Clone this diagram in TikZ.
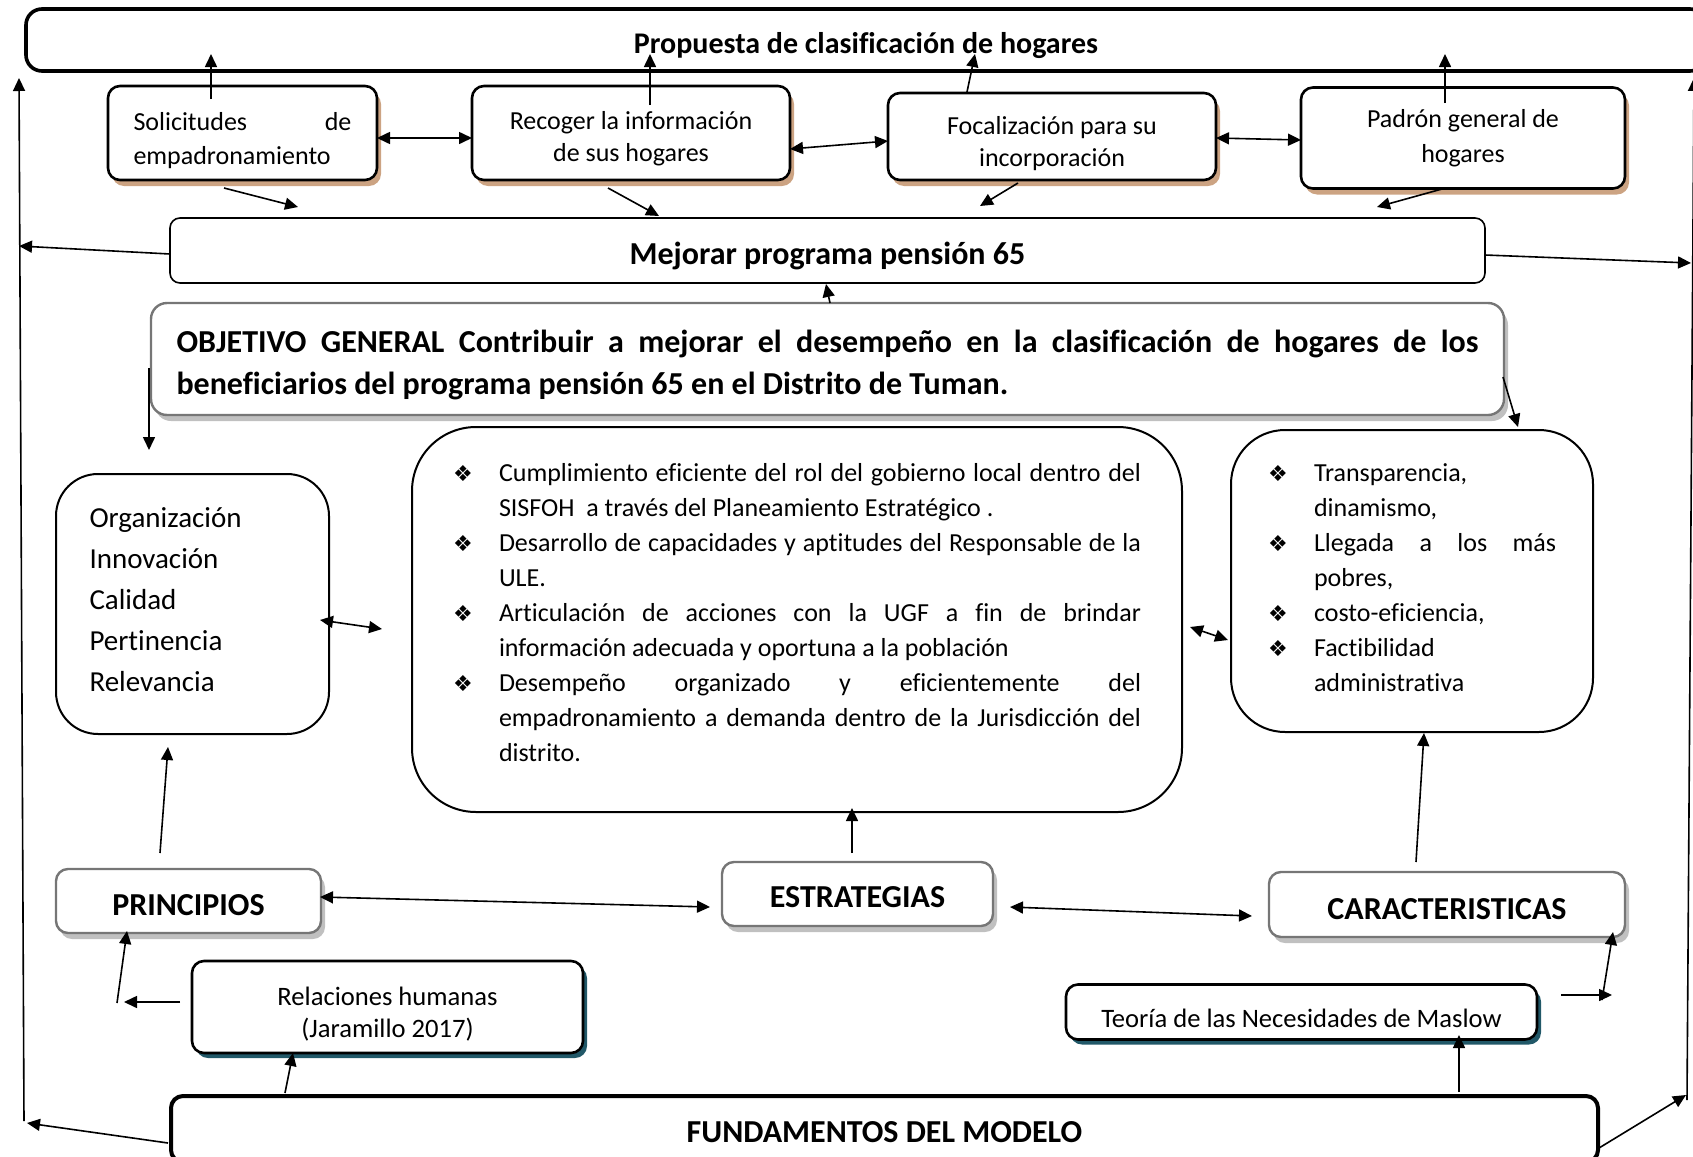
\documentclass[tikz,border=0pt]{standalone}
\usepackage{fontspec}
\setmainfont{Carlito}[Ligatures={TeX,NoCommon}]
\newfontfamily\simbolos{DejaVu Sans}
\usetikzlibrary{arrows.meta,shadows}

\definecolor{cafe}{RGB}{204,163,130}
\definecolor{petroleo}{RGB}{33,88,104}
\definecolor{gris}{RGB}{118,118,118}
\definecolor{grisclaro}{RGB}{192,192,192}

\hyphenpenalty=10000
\exhyphenpenalty=10000

% item with the diamond bullet and a hanging indent
\newcommand{\vineta}[1]{\par\hangindent=23pt\hangafter=1\noindent
  \makebox[23pt][l]{\simbolos\fontsize{11}{11}\selectfont ❖}#1\par}

\begin{document}
\begin{tikzpicture}[x=0.5pt,y=-0.5pt,
    flecha/.style={-{Triangle[length=6.5pt,width=6pt]},line width=0.8pt},
    doble/.style={{Triangle[length=6.5pt,width=6pt]}-{Triangle[length=6.5pt,width=6pt]},line width=0.8pt},
    baja/.style={execute at begin node={\rule{0pt}{#1}}},
    paso/.style={draw,fill=white,line width=1.3pt,rounded corners=6pt,
        drop shadow={fill=cafe,opacity=1,shadow xshift=2pt,shadow yshift=-3pt},
        font=\fontsize{13}{17}\selectfont,align=flush center},
    titulo/.style={draw=gris,fill=white,line width=1.2pt,rounded corners=6pt,
        drop shadow={fill=grisclaro,opacity=1,shadow xshift=2pt,shadow yshift=-3pt},
        font=\bfseries\fontsize{16}{19}\selectfont},
    teoria/.style={draw,fill=white,line width=1.3pt,rounded corners=6pt,
        drop shadow={fill=petroleo,opacity=1,shadow xshift=2pt,shadow yshift=-2.5pt},
        font=\fontsize{13.3}{16}\selectfont,align=flush center},
    lista/.style={draw,fill=white,line width=1pt,font=\fontsize{13}{17.5}\selectfont,align=justify}]

    \useasboundingbox (0,0) rectangle (1693,1157);

    % top and middle bars
    \node[draw,fill=white,line width=1.8pt,rounded corners=8pt,minimum width=840pt,minimum height=31pt,
        baja=15.7pt,font=\bfseries\fontsize{15}{18}\selectfont] (prop) at (866,40) {Propuesta de clasificación de hogares};
    \node[paso,minimum width=134.5pt,minimum height=47pt,text width=109pt,align=left,baja=16.3pt] (soli) at (242.5,133)
        {Solicitudes\hfill de\\empadronamiento};
    \node[paso,minimum width=159pt,minimum height=47pt,text width=150pt,baja=15pt,
        font=\fontsize{13}{16}\selectfont] (reco) at (631,133) {Recoger la información\\de sus hogares};
    \node[paso,minimum width=164pt,minimum height=43.5pt,text width=155pt,baja=16.3pt,
        font=\fontsize{13}{16}\selectfont] (foca) at (1052,136.5) {Focalización para su\\incorporación};
    \node[paso,minimum width=162pt,minimum height=50.5pt,font=\fontsize{13}{17.5}\selectfont] (padr) at (1463,138)
        {Padrón general de\\hogares};
    \node[draw,fill=white,line width=0.8pt,rounded corners=5pt,minimum width=657.5pt,minimum height=32.5pt,
        baja=16.5pt,font=\bfseries\fontsize{16}{19}\selectfont] (mejo) at (827.5,250.5) {Mejorar programa pensión 65};
    \node[draw=gris,fill=white,line width=1.2pt,rounded corners=8pt,
        drop shadow={fill=grisclaro,opacity=1,shadow xshift=2pt,shadow yshift=-3pt},
        minimum width=676.5pt,minimum height=56pt,text width=651pt,align=justify,baja=17.4pt,
        font=\bfseries\fontsize{16}{21}\selectfont] (obje) at (827.5,359)
        {OBJETIVO GENERAL Contribuir a mejorar el desempeño en la clasificación de hogares de los\linebreak
         beneficiarios del programa pensión 65 en el Distrito de Tuman.};

    % the three content boxes
    \node[draw,fill=white,line width=1pt,rounded corners=21pt,minimum width=136.5pt,minimum height=130pt,
        text width=103pt,align=left,font=\fontsize{14.5}{20.5}\selectfont] (valores) at (192.5,604)
        {Organización\\Innovación\\Calidad\\Pertinencia\\Relevancia\par\kern4.3pt};
    \node[lista,rounded corners=32pt,minimum width=385pt,minimum height=192.5pt,text width=344pt] (acciones) at (797,619.5) {
        \vineta{Cumplimiento eficiente del rol del gobierno local dentro del\linebreak
            SISFOH~ a través del Planeamiento Estratégico .}
        \vineta{Desarrollo de capacidades y aptitudes del Responsable de la\linebreak ULE.}
        \vineta{Articulación de acciones con la UGF a fin de brindar\linebreak
            información adecuada y oportuna a la población}
        \vineta{Desempeño organizado y eficientemente del\linebreak
            empadronamiento a demanda dentro de la Jurisdicción del\linebreak distrito.}
        \kern15pt};
    \node[lista,rounded corners=27pt,minimum width=181pt,minimum height=151pt,text width=144pt] (rasgos) at (1412,581) {
        \vineta{Transparencia,\\dinamismo,}
        \vineta{Llegada a los más\linebreak pobres,}
        \vineta{costo-eficiencia,}
        \vineta{Factibilidad\\administrativa}
        \kern12pt};

    % headings and foundations
    \node[titulo,minimum width=132.5pt,minimum height=32pt,baja=14.6pt] (principios) at (188.5,901) {PRINCIPIOS};
    \node[titulo,minimum width=135.5pt,minimum height=32pt,baja=13.5pt] (estrategias) at (857.5,894) {ESTRATEGIAS};
    \node[titulo,minimum width=178pt,minimum height=32.5pt,baja=14.6pt] (caracteristicas) at (1447,904.5) {CARACTERISTICAS};
    \node[teoria,minimum width=195.5pt,minimum height=46pt,text width=185pt,baja=16.5pt] (relaciones) at (387.5,1007)
        {Relaciones humanas\\(Jaramillo 2017)};
    \node[teoria,minimum width=235.5pt,minimum height=27.5pt,baja=15.2pt] (maslow) at (1301.5,1012) {Teoría de las Necesidades de Maslow};
    \node[draw,fill=white,line width=2pt,rounded corners=6pt,minimum width=713.5pt,minimum height=33pt,baja=13.5pt,
        font=\bfseries\fontsize{16}{19}\selectfont] (fundamentos) at (884.5,1129) {FUNDAMENTOS DEL MODELO};

    % loose ends of the connectors
    \foreach \nombre/\px/\py in {
        sol-ar/211/99, sol-pr/211/54, rec-ar/650/105, rec-pr/650/54,
        foc-ar/967/92, foc-pr/975/54, pad-ar/1445/103, pad-pr/1445/54,
        sol-de/377/138, rec-iz/472/138, rec-de/790/149, foc-iz/888/141,
        foc-de/1216/138, pad-iz/1301/140,
        sol-ab/224/188, mej-1/298/207, rec-ab/608/188, mej-2/659/216,
        foc-ab/1018/183, mej-3/980/206, pad-ab/1442/189, mej-4/1377/207,
        mej-iz/170/254, borde-iz/19/246, mej-de/1485/255, borde-de/1691/263,
        izq-ab/24/1121, izq-ar/19/78, der-ab/1687/1100, der-ar/1694/78,
        fun-iz/168/1143, izq-fin/27/1123, fun-de/1599/1148, der-fin/1686/1095,
        obj-ar/830/303, mej-ab/826/284, obj-iz/149/368, val-ar/149/450,
        obj-de/1503/377, ras-ar/1518/427,
        val-de/320/620, acc-iz/382/629, acc-de/1190/627, ras-iz/1228/640,
        pri-ar/160/853, val-ab/168/747, est-ar/852/853, acc-ab/852/808,
        car-ar/1416/862, ras-ab/1424/733,
        pri-de/320/897, est-iz/710/907, est-de/1010/907, car-iz/1252/916,
        rel-iz/180/1002, codo/124/1002, codo-b/117/1003, pri-ab/127/931,
        fun-a/285/1093, rel-ab/293/1053, fun-b/1459/1092, mas-ab/1459/1035,
        mas-de/1561/995, esq/1612/995, esq-b/1602/1000, car-ab/1613/932}
        \coordinate (\nombre) at (\px,\py);

    % arrows
    \draw[flecha] (sol-ar) -- (sol-pr);
    \draw[flecha] (rec-ar) -- (rec-pr);
    \draw[flecha] (foc-ar) -- (foc-pr);
    \draw[flecha] (pad-ar) -- (pad-pr);
    \draw[doble] (sol-de) -- (rec-iz);
    \draw[doble] (rec-de) -- (foc-iz);
    \draw[doble] (foc-de) -- (pad-iz);
    \draw[flecha] (sol-ab) -- (mej-1);
    \draw[flecha] (rec-ab) -- (mej-2);
    \draw[flecha] (foc-ab) -- (mej-3);
    \draw[flecha] (pad-ab) -- (mej-4);
    \draw[flecha] (mej-iz) -- (borde-iz);
    \draw[flecha] (mej-de) -- (borde-de);
    \draw[flecha] (izq-ab) -- (izq-ar);
    \draw[flecha] (der-ab) -- (der-ar);
    \draw[flecha] (fun-iz) -- (izq-fin);
    \draw[flecha] (fun-de) -- (der-fin);
    \draw[flecha] (obj-ar) -- (mej-ab);
    \draw[flecha] (obj-iz) -- (val-ar);
    \draw[flecha] (obj-de) -- (ras-ar);
    \draw[doble] (val-de) -- (acc-iz);
    \draw[doble] (acc-de) -- (ras-iz);
    \draw[flecha] (pri-ar) -- (val-ab);
    \draw[flecha] (est-ar) -- (acc-ab);
    \draw[flecha] (car-ar) -- (ras-ab);
    \draw[doble] (pri-de) -- (est-iz);
    \draw[doble] (est-de) -- (car-iz);
    \draw[flecha] (rel-iz) -- (codo);
    \draw[flecha] (codo-b) -- (pri-ab);
    \draw[flecha] (fun-a) -- (rel-ab);
    \draw[flecha] (fun-b) -- (mas-ab);
    \draw[flecha] (mas-de) -- (esq);
    \draw[flecha] (esq-b) -- (car-ab);
\end{tikzpicture}
\end{document}
